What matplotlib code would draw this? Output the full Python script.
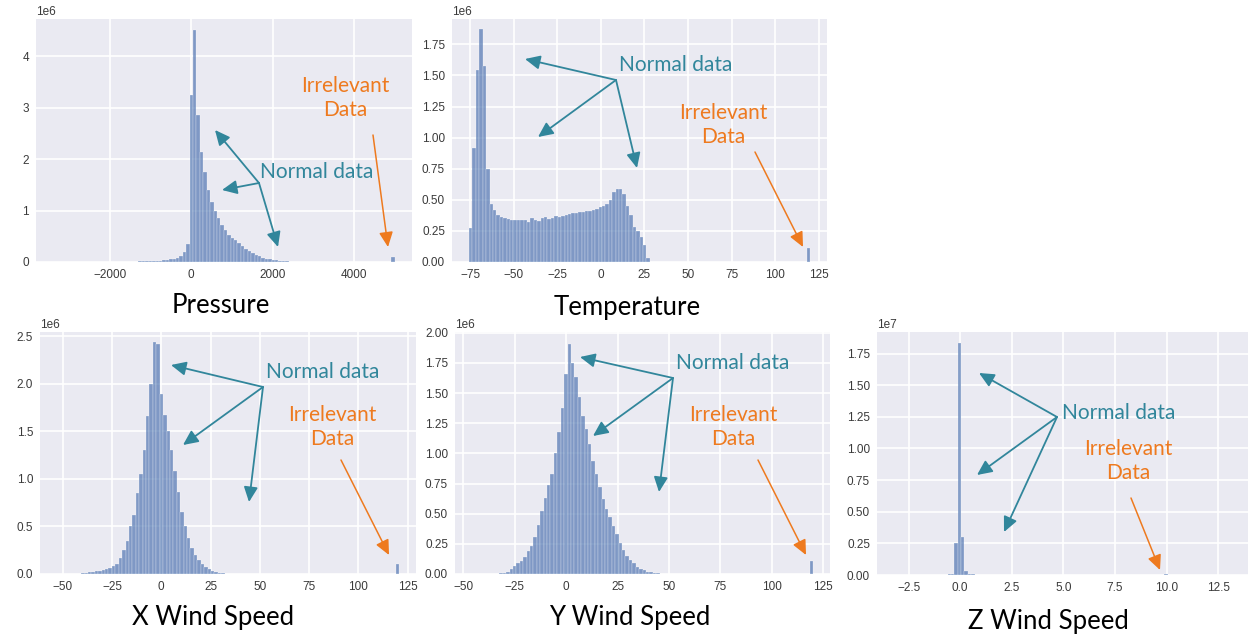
import numpy as np
import matplotlib
matplotlib.use("Agg")
import matplotlib.pyplot as plt
from matplotlib.ticker import MultipleLocator

W, H = 1248, 636

# ---------------- data (counts in units of the axis multiplier) ----------------
pressure_start, pressure_width = -3400.0, 84.0
pressure_first = 22
pressure_counts = [0.005, 0.006, 0.008, 0.01, 0.012, 0.014, 0.016, 0.018,
                   0.02, 0.025, 0.03, 0.04, 0.05, 0.06, 0.08, 0.11, 0.19, 0.35,
                   3.25, 4.5, 2.85, 2.14, 1.75, 1.4, 1.16, 0.99, 0.85, 0.72,
                   0.62, 0.53, 0.47, 0.42, 0.36, 0.31, 0.26, 0.22, 0.18, 0.14,
                   0.11, 0.08, 0.06, 0.05, 0.04, 0.03, 0.02, 0.02, 0.01, 0.008,
                   0.006, 0.004, 0.003]
pressure_outlier = (99, 0.10)

temp_start, temp_width = -75.7, 1.957
temp_first = 0
temp_counts = [0.27, 0.92, 1.54, 1.87, 1.58, 0.75,
               0.47, 0.415, 0.38, 0.36, 0.35, 0.345, 0.34, 0.34, 0.34, 0.34,
               0.34, 0.32, 0.35, 0.34, 0.33, 0.35, 0.36, 0.345, 0.35, 0.37,
               0.36, 0.37, 0.38, 0.385,
               0.39, 0.39, 0.40, 0.40, 0.41, 0.41, 0.42, 0.43, 0.44, 0.45,
               0.47, 0.50, 0.56, 0.59, 0.59, 0.545, 0.45, 0.38, 0.28, 0.25,
               0.20, 0.14, 0.03]
temp_outlier = (99, 0.11)

xwind_start, xwind_width = -52.8, 1.734
xwind_first = 3
xwind_counts = [0.005, 0.005, 0.005, 0.005, 0.01, 0.015, 0.02, 0.025, 0.03,
                0.035, 0.04, 0.05, 0.06, 0.08, 0.11, 0.17, 0.25, 0.35, 0.5,
                0.62, 0.85, 1.05, 1.3, 1.66, 2.0,
                2.44, 2.42,
                1.89, 1.67, 1.50, 1.30, 1.08, 0.86, 0.65, 0.50, 0.38, 0.27,
                0.20, 0.15, 0.10, 0.07, 0.05, 0.03, 0.02, 0.012, 0.008, 0.005]
xwind_outlier = (99, 0.105)

ywind_start, ywind_width = -45.8, 1.658
ywind_first = 8
ywind_counts = [0.005, 0.01, 0.02, 0.045, 0.07, 0.09, 0.11, 0.14, 0.19, 0.23,
                0.31, 0.41, 0.52, 0.63, 0.74, 0.83, 1.0, 1.18, 1.38,
                1.66, 1.91, 1.75, 1.63, 1.47, 1.31, 1.20, 1.08, 0.94, 0.83,
                0.72, 0.62, 0.54, 0.47, 0.40, 0.33, 0.26, 0.20, 0.15, 0.12,
                0.09, 0.06, 0.04, 0.03, 0.02, 0.015, 0.01, 0.005]
ywind_outlier = (99, 0.104)

zwind_start, zwind_width = -3.4, 0.164
zwind_first = 17
zwind_counts = [0.005, 0.01, 0.25, 1.83, 0.30, 0.03, 0.01, 0.005]
zwind_outlier = (81, 0.006)

titles = ["Pressure", "Temperature", "X Wind Speed", "Y Wind Speed", "Z Wind Speed"]
multipliers = [1e6, 1e6, 1e6, 1e6, 1e7]

# ---------------- styling ----------------
BAR = "#4C72B0"
TEAL = "#31869B"
ORANGE = "#EE7A1F"
FACE = "#EAEAF2"

plt.rcParams["font.family"] = ["Liberation Sans", "DejaVu Sans"]
fig = plt.figure(figsize=(W / 100, H / 100), dpi=100)
fig.patch.set_facecolor("white")


def fx(x):
    return x / W


def fy(y):
    return 1 - y / H


def add_axes(l, t, r, b):
    return fig.add_axes([fx(l), fy(b), fx(r) - fx(l), fy(t) - fy(b)])


panels = [
    dict(box=(36, 19, 412, 262), xlim=(-3820, 5429), ylim=4.72, xstep=2000, ystep=1.0,
         start=pressure_start, width=pressure_width, first=pressure_first,
         counts=pressure_counts, outlier=pressure_outlier),
    dict(box=(452, 19, 827, 262), xlim=(-85.5, 129.8), ylim=1.954, xstep=25, ystep=0.25,
         start=temp_start, width=temp_width, first=temp_first,
         counts=temp_counts, outlier=temp_outlier),
    dict(box=(40, 332, 416, 574), xlim=(-61.5, 129.2), ylim=2.545, xstep=25, ystep=0.5,
         start=xwind_start, width=xwind_width, first=xwind_first,
         counts=xwind_counts, outlier=xwind_outlier),
    dict(box=(455, 332, 830, 574), xlim=(-54.1, 128.3), ylim=2.006, xstep=25, ystep=0.25,
         start=ywind_start, width=ywind_width, first=ywind_first,
         counts=ywind_counts, outlier=ywind_outlier),
    dict(box=(877, 332, 1248, 575), xlim=(-4.03, 13.94), ylim=1.92, xstep=2.5, ystep=0.25,
         start=zwind_start, width=zwind_width, first=zwind_first,
         counts=zwind_counts, outlier=zwind_outlier),
]

for p, mult in zip(panels, multipliers):
    ax = add_axes(*p["box"])
    ax.set_facecolor(FACE)
    for s in ax.spines.values():
        s.set_visible(False)
    counts = list(p["counts"])
    idx = np.arange(p["first"], p["first"] + len(counts))
    oi, oc = p["outlier"]
    idx = np.append(idx, oi)
    vals = np.array(counts + [oc]) * mult
    lefts = p["start"] + idx * p["width"]
    ax.bar(lefts, vals, width=p["width"], align="edge", color=BAR, alpha=0.68,
           edgecolor=(1, 1, 1, 0.6), linewidth=0.25, zorder=2)
    ax.set_xlim(*p["xlim"])
    ax.set_ylim(0, p["ylim"] * mult)
    ax.xaxis.set_major_locator(MultipleLocator(p["xstep"]))
    ax.yaxis.set_major_locator(MultipleLocator(p["ystep"] * mult))
    ax.grid(True, color="white", linewidth=1.2, zorder=0)
    ax.set_axisbelow(True)
    ax.tick_params(length=0, labelsize=8.5, labelcolor="#3a3a3a", pad=5)
    ax.yaxis.get_offset_text().set_fontsize(8.5)
    ax.yaxis.get_offset_text().set_color("#3a3a3a")

# ---------------- titles under panels ----------------
title_pos = [(221, 305), (627, 308), (213, 617), (630, 618), (1048, 622)]
for t, (x, y) in zip(titles, title_pos):
    fig.text(fx(x), fy(y), t, ha="center", va="center", fontsize=18.5,
             family=["Lato", "DejaVu Sans"], color="black")

# ---------------- annotations ----------------
normal_text = [(260, 172), (619, 65), (266, 372), (676, 363), (1062, 413)]
normal_origin = [(259, 183), (616, 80), (263, 387), (673, 378), (1057, 417)]
normal_heads = [
    [(215, 130), (222, 190), (278, 247)],
    [(525, 59), (538, 137), (637, 168)],
    [(171, 365), (183, 445), (249, 502)],
    [(580, 357), (593, 436), (659, 492)],
    [(979, 373), (977, 475), (1004, 532)],
]
irr_text = [(345, 98), (723, 125), (332, 427), (733, 427), (1128, 461)]
irr_arrow = [
    ((373, 135), (388, 247)),
    ((755, 152), (803, 247)),
    ((341, 460), (389, 555)),
    ((758, 460), (806, 555)),
    ((1131, 498), (1160, 570)),
]

ANN_FONT = ["Lato", "DejaVu Sans"]


def arrow(src, dst, color, lw):
    fig.add_artist(matplotlib.patches.FancyArrowPatch(
        (fx(src[0]), fy(src[1])), (fx(dst[0]), fy(dst[1])),
        transform=fig.transFigure, arrowstyle="-|>,head_length=0.75,head_width=0.35",
        mutation_scale=12, color=color, linewidth=lw, shrinkA=0, shrinkB=0))


for i in range(5):
    tx, ty = normal_text[i]
    fig.text(fx(tx), fy(ty), "Normal data", ha="left", va="center", fontsize=15,
             family=ANN_FONT, color=TEAL)
    for h in normal_heads[i]:
        arrow(normal_origin[i], h, TEAL, 1.3)
    ix, iy = irr_text[i]
    fig.text(fx(ix), fy(iy), "Irrelevant\nData", ha="center", va="center", fontsize=15,
             family=ANN_FONT, color=ORANGE, linespacing=1.3)
    arrow(irr_arrow[i][0], irr_arrow[i][1], ORANGE, 1.1)

fig.savefig("out.png", dpi=100, facecolor="white")
